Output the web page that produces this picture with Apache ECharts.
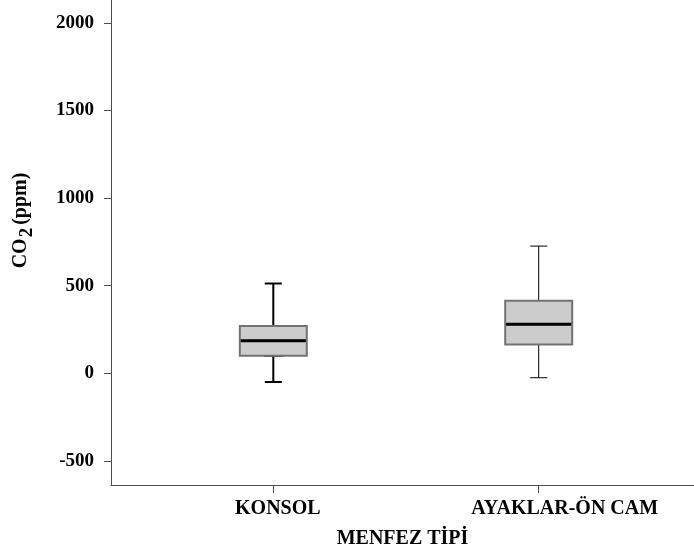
<!DOCTYPE html>
<html>
<head>
<meta charset="utf-8">
<script src="https://cdn.jsdelivr.net/npm/echarts@6/dist/echarts.min.js"></script>
<style>html,body{margin:0;padding:0;background:#fff}#c{width:694px;height:556px}</style>
</head>
<body>
<div id="c"></div>
<script>
// ---- data ----
const categories = ['KONSOL', 'AYAKLAR-ÖN CAM'];
// [min, Q1, median, Q3, max]
const konsolBox = [-50, 100, 186, 270, 513];
const ayaklarBox = [-25, 165, 280, 414, 726];
const yTicks = [-500, 0, 500, 1000, 1500, 2000];
const yMin = -637, yMax = 2130;

const boxes = [konsolBox, ayaklarBox];
const whiskerWidths = [2, 1];

const FONT = 'Liberation Serif';
const AXIS_COLOR = '#4d4d4d';
const chart = echarts.init(document.getElementById('c'), null, {renderer: 'canvas'});

const gridPos = {top: 0, bottom: 71};
const boxGrid = Object.assign({left: 140.6, width: 530.8}, gridPos);

function hiddenY(i) {
  return {type: 'value', gridIndex: i, min: yMin, max: yMax, show: false};
}
function hiddenX(i) {
  return {type: 'category', gridIndex: i, data: categories, show: false};
}

const option = {
  animation: false,
  backgroundColor: '#fff',
  grid: [
    Object.assign({left: 111, right: 0}, gridPos),
    boxGrid, Object.assign({}, boxGrid), Object.assign({}, boxGrid)
  ],
  xAxis: [
    {
      type: 'value', gridIndex: 0, min: 0, max: 1,
      axisLine: {show: true, onZero: false, lineStyle: {color: AXIS_COLOR, width: 1}},
      axisTick: {show: false}, axisLabel: {show: false}, splitLine: {show: false},
      name: 'MENFEZ TİPİ', nameLocation: 'middle', nameGap: 44,
      nameTextStyle: {fontFamily: FONT, fontWeight: 'bold', fontSize: 20, color: '#000'}
    },
    {
      type: 'category', gridIndex: 1, data: categories,
      axisLine: {show: true, onZero: false, lineStyle: {color: AXIS_COLOR, width: 1}},
      axisTick: {show: true, alignWithLabel: true, interval: 0, length: 8, lineStyle: {color: AXIS_COLOR, width: 1}},
      axisLabel: {
        margin: 14, interval: 0, color: '#000', fontFamily: FONT, fontWeight: 'bold', fontSize: 20,
        formatter: function (v, i) { return i === 0 ? '{k|' + v + '}' : '{a|' + v + '}'; },
        rich: {
          k: {fontFamily: FONT, fontWeight: 'bold', fontSize: 20, color: '#000', padding: [0, 0, 0, 9]},
          a: {fontFamily: FONT, fontWeight: 'bold', fontSize: 20, color: '#000', padding: [0, 0, 0, 52]}
        }
      },
      splitLine: {show: false}
    },
    hiddenX(2), hiddenX(3)
  ],
  yAxis: [
    {
      type: 'value', gridIndex: 0, min: yMin, max: yMax,
      axisLine: {show: true, onZero: false, lineStyle: {color: AXIS_COLOR, width: 1}},
      axisTick: {show: true, length: 7, customValues: yTicks, lineStyle: {color: AXIS_COLOR, width: 1}},
      axisLabel: {
        customValues: yTicks, margin: 17, color: '#000',
        fontFamily: FONT, fontWeight: 'bold', fontSize: 19,
        formatter: function (v) { return String(v); }
      },
      splitLine: {show: false},
      name: '{a|CO}{b|2}{a|(ppm)}', nameLocation: 'middle', nameRotate: 90, nameGap: 74,
      nameTextStyle: {
        padding: [0, 0, 0, 44],
        rich: {
          a: {fontFamily: FONT, fontWeight: 'bold', fontSize: 20, color: '#000'},
          b: {fontFamily: FONT, fontWeight: 'bold', fontSize: 19, color: '#000', padding: [14, 3, 0, 1]}
        }
      }
    },
    hiddenY(1), hiddenY(2), hiddenY(3)
  ],
  series: [
    { // whiskers
      type: 'boxplot', xAxisIndex: 1, yAxisIndex: 1, boxWidth: [17, 17],
      data: boxes.map((b, i) => ({value: b, itemStyle: {color: '#fff', borderColor: '#000', borderWidth: whiskerWidths[i]}})),
      z: 2
    },
    { // box
      type: 'boxplot', xAxisIndex: 2, yAxisIndex: 2, boxWidth: [67, 67],
      data: boxes.map(b => [b[1], b[1], b[2], b[3], b[3]]),
      itemStyle: {color: '#cccccc', borderColor: '#727272', borderWidth: 2},
      z: 3
    },
    { // median
      type: 'boxplot', xAxisIndex: 3, yAxisIndex: 3, boxWidth: [65, 65],
      data: boxes.map(b => [b[2], b[2], b[2], b[2], b[2]]),
      itemStyle: {color: '#000', borderColor: '#000', borderWidth: 3},
      z: 4
    }
  ]
};
chart.setOption(option);
</script>
</body>
</html>
